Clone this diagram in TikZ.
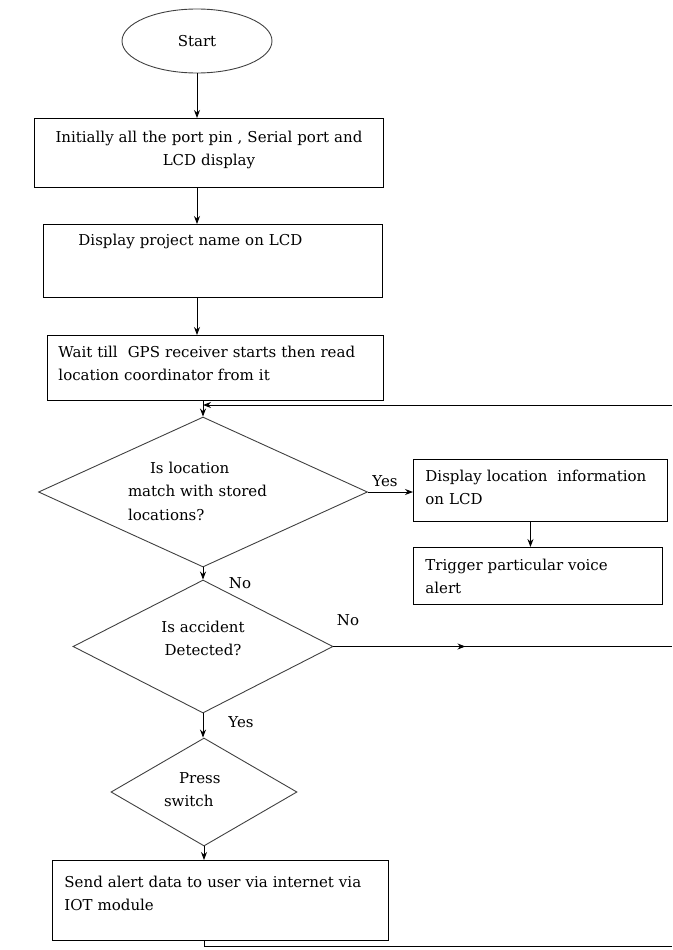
\documentclass[tikz,border=0pt]{standalone}
\usepackage{fontspec}
\setmainfont{DejaVu Serif}
\usepackage{tikz}
\usetikzlibrary{arrows.meta,shapes.geometric}
\tikzset{
  procbox/.style={draw=black,line width=0.9pt,anchor=north west,align=left,inner ysep=0pt,inner xsep=12pt},
  decision/.style={diamond,draw=black!75,line width=0.9pt,inner sep=0pt},
  flowlabel/.style={inner sep=0pt}
}

\begin{document}
\begin{tikzpicture}[x=1pt,y=-1pt,>={Stealth[length=8pt,width=6pt]},line width=0.9pt,font=\fontsize{15pt}{23.5pt}\selectfont]
\useasboundingbox (0,0) rectangle (672,950);
% main column
\node (start) [ellipse,draw=black!75,minimum width=150pt,minimum height=64pt,inner sep=0pt] at (197,41) {Start};
\node (init) [procbox,align=center,text width=329pt,inner xsep=10pt,text height=24pt,text depth=45pt] at (34,118) {Initially all the port pin , Serial port and\\LCD display};
\node (name) [procbox,text width=269pt,inner xsep=35pt,text height=21pt,text depth=52pt] at (43,224) {Display project name on LCD};
\node (gps) [procbox,text width=314pt,inner xsep=11pt,text height=22pt,text depth=43pt] at (47,335) {Wait till~ GPS receiver starts then read\\location coordinator from it};
\node (match) [decision,aspect=2.19,minimum width=329pt,minimum height=150pt,text width=150pt,align=left,text height=14pt,text depth=52pt] at (203,492) {\hspace*{22pt}Is location\\match with stored\\locations?};
\node (detect) [decision,aspect=1.95,minimum width=260pt,minimum height=133pt,text width=100pt,align=center,text height=12pt,text depth=41pt] at (203,646.5) {Is accident\\Detected?};
\node (press) [decision,aspect=1.72,minimum width=186pt,minimum height=108pt,text width=80pt,align=left,text height=12pt,text depth=30pt] at (204,792) {\hspace*{15pt}Press\\switch};
\node (send) [procbox,text width=312pt,text height=27pt,text depth=53pt] at (52,860) {Send alert data to user via internet via\\IOT module};
% right branch
\node (showinfo) [procbox,text width=230pt,text height=22pt,text depth=40pt] at (413,459) {Display location~ information\\on LCD};
\node (voice) [procbox,text width=225pt,text height=23pt,text depth=34pt] at (413,547) {Trigger particular voice\\alert};
% labels
\node (yesA) [flowlabel] at (385,481) {Yes};
\node (noA) [flowlabel] at (240,583) {No};
\node (noB) [flowlabel] at (348,620) {No};
\node (yesB) [flowlabel] at (241,722) {Yes};
% loop ends at the right edge
\coordinate (loopin) at (672,405);
\path (detect.east) ++(132,0) coordinate (loopmid);
\coordinate (loopend) at (672,946);

\draw[->] (start.south) -- (start.south |- init.north);
\draw[->] (init.south -| start.south) -- (name.north -| start.south);
\draw[->] (name.south -| start.south) -- (gps.north -| start.south);
\draw[->] (gps.south -| match.north) -- (match.north);
\draw[->] (loopin) -- (match.north |- loopin);
\draw[->] (match.east) -- (showinfo.west |- match.east);
\draw[->] ([xshift=-10pt]showinfo.south) -- ([xshift=-10pt]showinfo.south |- voice.north);
\draw[->] (match.south) -- (detect.north);
\draw[->] (detect.east) -- (loopmid);
\draw (loopmid) -- (detect.east -| loopin);
\draw[->] (detect.south) -- (detect.south |- press.north);
\draw[->] (press.south) -- (send.north -| press.south);
\draw (send.south -| press.south) |- (loopend);
\end{tikzpicture}
\end{document}
